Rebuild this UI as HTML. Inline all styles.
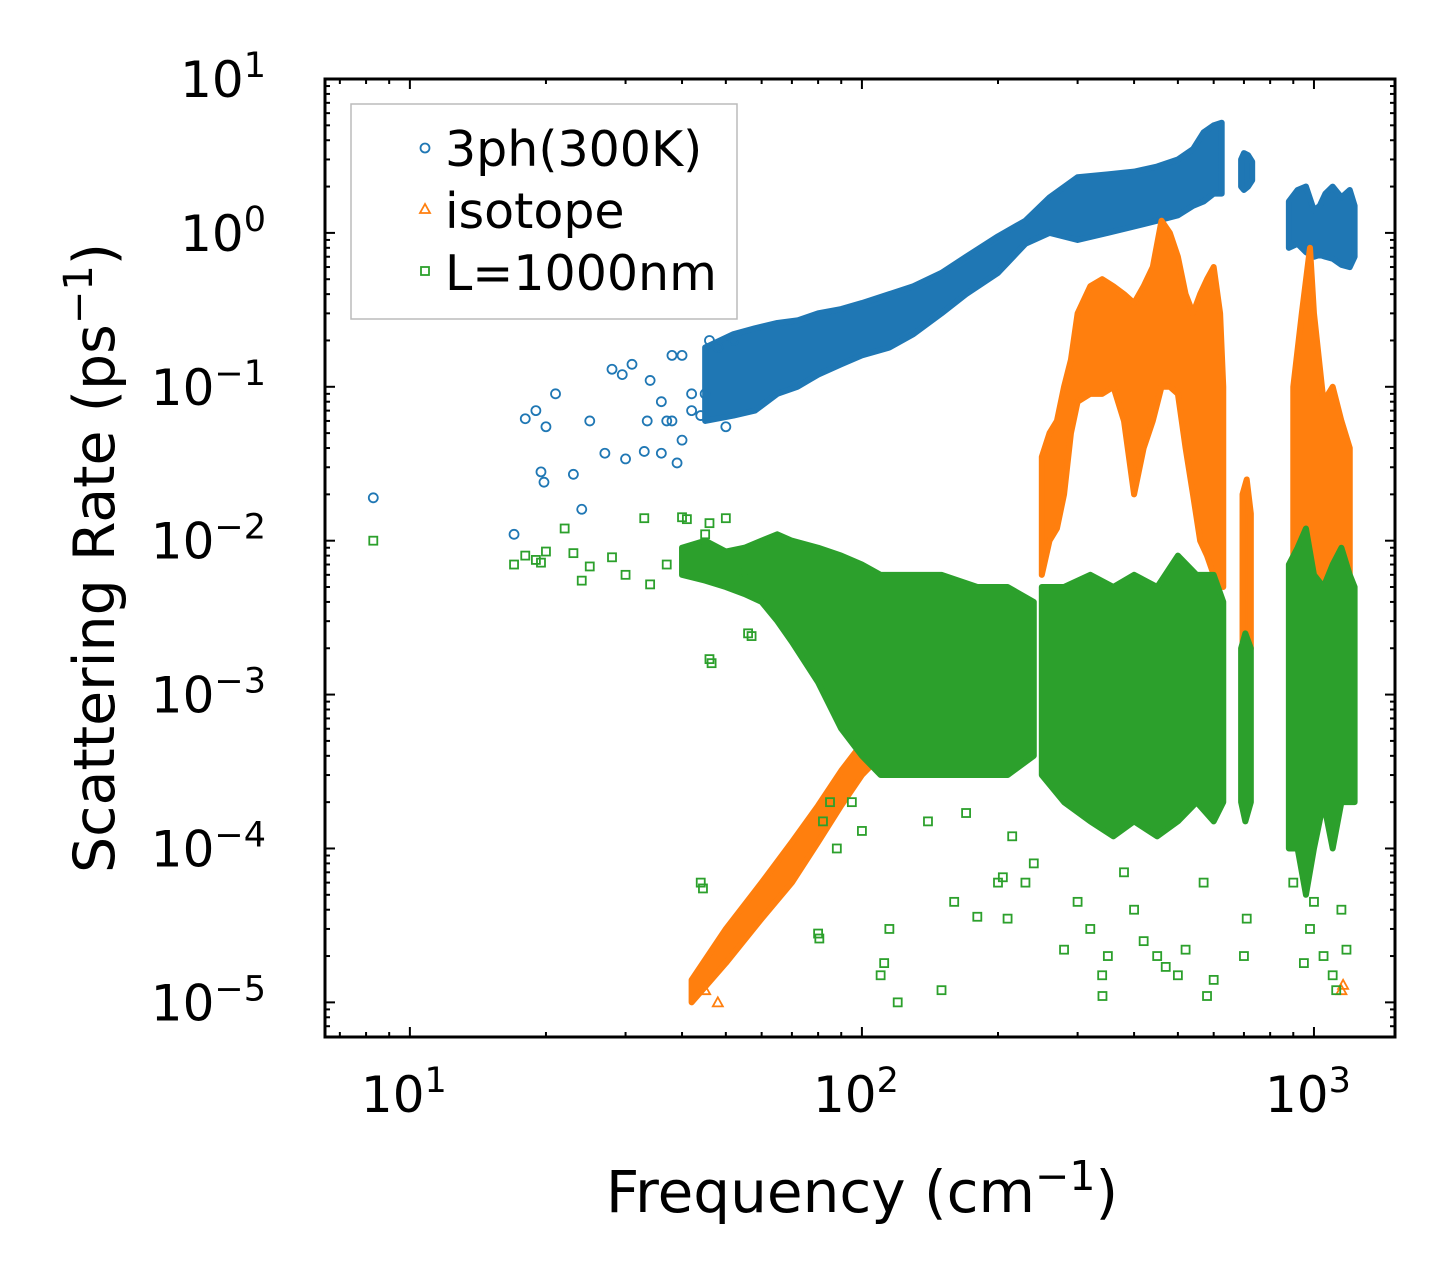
<!DOCTYPE html>
<html><head><meta charset="utf-8"><style>
body{margin:0;background:#fff}
svg{display:block;font-family:"DejaVu Sans","Liberation Sans",sans-serif}
</style></head><body>
<svg id="chart" width="1455" height="1286" viewBox="0 0 1455 1286" xmlns="http://www.w3.org/2000/svg">
<rect width="1455" height="1286" fill="#fff"/>
<g id="marks"></g>
<g id="axes"></g>
<text x="862" y="1212" font-size="58" text-anchor="middle">Frequency (cm<tspan dy="-22" font-size="41">−1</tspan><tspan dy="22">)</tspan></text>
<text transform="translate(114,558) rotate(-90)" font-size="57" text-anchor="middle">Scattering Rate (ps<tspan dy="-22" font-size="40">−1</tspan><tspan dy="22">)</tspan></text>
<g>
<rect x="351" y="104" width="386" height="215" fill="#fff" stroke="#bbb" stroke-width="1.5"/>
<g><circle cx="425" cy="148" r="4.5" fill="none" stroke="#1f77b4" stroke-width="1.8"/><text x="445" y="166" font-size="49">3ph(300K)</text></g>
<g><polygon points="425,204 420,213 430,213" fill="none" stroke="#ff7f0e" stroke-width="1.8"/><text x="445" y="228" font-size="49">isotope</text></g>
<g><rect x="421" y="267" width="8" height="8" fill="none" stroke="#2ca02c" stroke-width="1.8"/><text x="445" y="290" font-size="49">L=1000nm</text></g>
</g>
</svg>
<script>
// ---- data ----
const blueBandF=[45,52,58,65,72,80,90,100,115,130,150,170,200,230,260,300,350,400,450,500,540,570,600,625];
const blueBandLo=[0.06,0.065,0.07,0.09,0.1,0.12,0.14,0.16,0.18,0.22,0.3,0.4,0.55,0.85,1.0,0.9,1.0,1.1,1.2,1.3,1.5,1.6,1.8,1.8];
const blueBandHi=[0.18,0.22,0.24,0.26,0.27,0.3,0.32,0.35,0.4,0.45,0.55,0.7,0.95,1.2,1.7,2.3,2.4,2.5,2.7,3.0,3.5,4.5,5.0,5.2];
const blueBand2F=[690,700,715,730];const blueBand2Lo=[2.0,1.9,2.0,2.2];const blueBand2Hi=[3.0,3.3,3.2,2.9];
const blueBand3F=[880,920,960,1000,1030,1060,1100,1150,1200,1230];
const blueBand3Lo=[0.8,0.85,0.75,0.7,0.72,0.7,0.68,0.62,0.6,0.7];
const blueBand3Hi=[1.6,1.9,2.0,1.4,1.5,1.8,2.0,1.7,1.9,1.5];
const blueF=[8.3,17,19.5,19.8,20,21,18,19,23,24,25,27,28,29.5,30,31,33,33.5,34,36,37,38,39,40,42,44,45,46,48,50,52,36,38,40,42];
const blueR=[0.019,0.011,0.028,0.024,0.055,0.09,0.062,0.07,0.027,0.016,0.06,0.037,0.13,0.12,0.034,0.14,0.038,0.06,0.11,0.08,0.06,0.16,0.032,0.16,0.07,0.065,0.09,0.2,0.18,0.055,0.2,0.037,0.06,0.045,0.09];
const orBandF=[42,50,60,70,80,90,100,110,122];
const orBandLo=[1e-5,1.8e-5,3.5e-5,6e-5,1.1e-4,1.9e-4,3e-4,4e-4,5e-4];
const orBandHi=[1.4e-5,3e-5,6e-5,1.1e-4,1.9e-4,3.2e-4,4.8e-4,6.2e-4,7.5e-4];
const orBand2F=[250,260,270,280,290,300,320,340,360,380,400,420,440,460,480,500,520,540,560,580,600,620,630];
const orBand2Lo=[0.006,0.01,0.012,0.02,0.05,0.08,0.09,0.09,0.1,0.06,0.02,0.04,0.06,0.1,0.1,0.09,0.04,0.02,0.01,0.008,0.006,0.006,0.005];
const orBand2Hi=[0.035,0.05,0.06,0.1,0.15,0.3,0.45,0.5,0.45,0.4,0.35,0.45,0.6,1.2,1.0,0.7,0.4,0.3,0.4,0.5,0.6,0.3,0.1];
const orBand3F=[695,710,725];const orBand3Lo=[0.002,0.0015,0.002];const orBand3Hi=[0.02,0.025,0.015];
const orBand4F=[900,940,980,1000,1050,1100,1150,1200];
const orBand4Lo=[0.004,0.003,0.01,0.003,0.002,0.002,0.003,0.003];
const orBand4Hi=[0.1,0.3,0.8,0.3,0.08,0.1,0.06,0.04];
const orF=[1150,1160,45,48];const orR=[1.2e-5,1.3e-5,1.2e-5,1e-5];
const grBandF=[40,45,50,55,60,65,70,80,90,100,110,120,150,180,210,240];
const grBandLo=[0.006,0.0055,0.005,0.0045,0.004,0.003,0.0022,0.0012,0.0006,0.0004,0.0003,0.0003,0.0003,0.0003,0.0003,0.0004];
const grBandHi=[0.009,0.01,0.0085,0.009,0.01,0.011,0.01,0.009,0.008,0.007,0.006,0.006,0.006,0.005,0.005,0.004];
const grBand2F=[250,280,320,360,400,450,500,550,600,630];
const grBand2Lo=[0.0003,0.0002,0.00015,0.00012,0.00015,0.00012,0.00015,0.0002,0.00015,0.0002];
const grBand2Hi=[0.005,0.005,0.006,0.005,0.006,0.005,0.008,0.006,0.006,0.004];
const grBand3F=[690,705,725];const grBand3Lo=[0.0002,0.00015,0.0002];const grBand3Hi=[0.002,0.0025,0.002];
const grBand4F=[880,920,960,1000,1050,1100,1150,1200,1230];
const grBand4Lo=[0.0001,0.0001,0.00005,0.0001,0.0002,0.0001,0.0002,0.0002,0.0002];
const grBand4Hi=[0.007,0.009,0.012,0.006,0.005,0.007,0.009,0.006,0.005];
const grF=[8.3,17,18,19,19.5,20,22,23,24,25,28,30,33,34,37,40,41,43,45,46,50,53,55,57,46,46.5,44,44.5,56,80,80.5,82,85,88,95,100,110,112,115,120,140,150,160,170,180,200,205,210,215,230,240,280,300,320,340,340.5,350,380,400,420,450,470,500,520,570,580,600,700,710,900,950,980,1000,1050,1100,1120,1150,1180];
const grR=[0.01,0.007,0.008,0.0075,0.0072,0.0085,0.012,0.0083,0.0055,0.0068,0.0078,0.006,0.014,0.0052,0.007,0.0142,0.0138,0.009,0.011,0.013,0.014,0.0055,0.0063,0.0024,0.0017,0.0016,6e-5,5.5e-5,0.0025,2.8e-5,2.6e-5,1.5e-4,2e-4,1e-4,2e-4,1.3e-4,1.5e-5,1.8e-5,3e-5,1e-5,1.5e-4,1.2e-5,4.5e-5,1.7e-4,3.6e-5,6e-5,6.5e-5,3.5e-5,1.2e-4,6e-5,8e-5,2.2e-5,4.5e-5,3e-5,1.5e-5,1.1e-5,2e-5,7e-5,4e-5,2.5e-5,2e-5,1.7e-5,1.5e-5,2.2e-5,6e-5,1.1e-5,1.4e-5,2e-5,3.5e-5,6e-5,1.8e-5,3e-5,4.5e-5,2e-5,1.5e-5,1.2e-5,4e-5,2.2e-5];
// ---- axes ----
const X0=325,X1=1395,Y0=79,Y1=1037;
const xmin=Math.log10(6.49),xmax=Math.log10(1511),ymin=-5.225,ymax=1.0;
const xs=v=>X0+(Math.log10(v)-xmin)/(xmax-xmin)*(X1-X0);
const ys=v=>Y1-(Math.log10(v)-ymin)/(ymax-ymin)*(Y1-Y0);
const NS="http://www.w3.org/2000/svg";
const marks=document.getElementById('marks'),axes=document.getElementById('axes');
function mk(tag,attrs,parent){const e=document.createElementNS(NS,tag);for(const k in attrs)e.setAttribute(k,attrs[k]);parent.appendChild(e);return e;}
function band(F,Lo,Hi,color,name){
  let pts=F.map((f,i)=>xs(f)+','+ys(Hi[i]));
  for(let i=F.length-1;i>=0;i--)pts.push(xs(F[i])+','+ys(Lo[i]));
  const p=mk('polygon',{points:pts.join(' '),fill:color,stroke:color,'stroke-width':6,'stroke-linejoin':'round'},marks);
  
  
}
function scatter(F,R,color,shape,name){
  F.forEach((f,i)=>{const x=xs(f),y=ys(R[i]);let e;
    if(shape==='c')e=mk('circle',{cx:x,cy:y,r:4.5,fill:'none',stroke:color,'stroke-width':1.8},marks);
    else if(shape==='t')e=mk('polygon',{points:`${x},${y-5} ${x-5},${y+4} ${x+5},${y+4}`,fill:'none',stroke:color,'stroke-width':1.8},marks);
    else e=mk('rect',{x:x-4,y:y-4,width:8,height:8,fill:'none',stroke:color,'stroke-width':1.8},marks);
    
    
  });
}
const B='#1f77b4',O='#ff7f0e',G='#2ca02c';
band(blueBandF,blueBandLo,blueBandHi,B,'3ph-band');
band(blueBand2F,blueBand2Lo,blueBand2Hi,B,'3ph-band-700');
band(blueBand3F,blueBand3Lo,blueBand3Hi,B,'3ph-band-1000');
scatter(blueF,blueR,B,'c','3ph-point');
band(orBandF,orBandLo,orBandHi,O,'isotope-low-band');
band(orBand2F,orBand2Lo,orBand2Hi,O,'isotope-band-400');
band(orBand3F,orBand3Lo,orBand3Hi,O,'isotope-band-700');
band(orBand4F,orBand4Lo,orBand4Hi,O,'isotope-band-1000');
scatter(orF,orR,O,'t','isotope-point');
band(grBandF,grBandLo,grBandHi,G,'boundary-band-low');
band(grBand2F,grBand2Lo,grBand2Hi,G,'boundary-band-400');
band(grBand3F,grBand3Lo,grBand3Hi,G,'boundary-band-700');
band(grBand4F,grBand4Lo,grBand4Hi,G,'boundary-band-1000');
scatter(grF,grR,G,'s','boundary-point');
// frame
const fr=mk('rect',{x:X0,y:Y0,width:X1-X0,height:Y1-Y0,fill:'none',stroke:'#000','stroke-width':3},axes);


// ticks
for(let d=0;d<=3;d++)for(let m=1;m<=9;m++){const v=m*Math.pow(10,d);const x=xs(v);if(x<X0||x>X1)continue;const L=m===1?10:5;
  mk('line',{x1:x,x2:x,y1:Y1,y2:Y1-L,stroke:'#000','stroke-width':2},axes);
  mk('line',{x1:x,x2:x,y1:Y0,y2:Y0+L,stroke:'#000','stroke-width':2},axes);}
for(let d=-6;d<=1;d++)for(let m=1;m<=9;m++){const v=m*Math.pow(10,d);const y=ys(v);if(y<Y0||y>Y1)continue;const L=m===1?10:5;
  mk('line',{x1:X0,x2:X0+L,y1:y,y2:y,stroke:'#000','stroke-width':2},axes);
  mk('line',{x1:X1,x2:X1-L,y1:y,y2:y,stroke:'#000','stroke-width':2},axes);}
const xTicks=[1,2,3],yTicks=[1,0,-1,-2,-3,-4,-5];
xTicks.forEach(p=>{const t=mk('text',{x:xs(Math.pow(10,p))-6,y:1112,'font-size':50,'text-anchor':'middle'},axes);
  
  
  t.innerHTML='10<tspan dy="-20" font-size="35">'+p+'</tspan>';});
yTicks.forEach(p=>{const t=mk('text',{x:266,y:ys(Math.pow(10,p))+18,'font-size':50,'text-anchor':'end'},axes);
  
  
  t.innerHTML='10<tspan dy="-20" font-size="35">'+(p<0?'−'+(-p):p)+'</tspan>';});
</script>
</body></html>
